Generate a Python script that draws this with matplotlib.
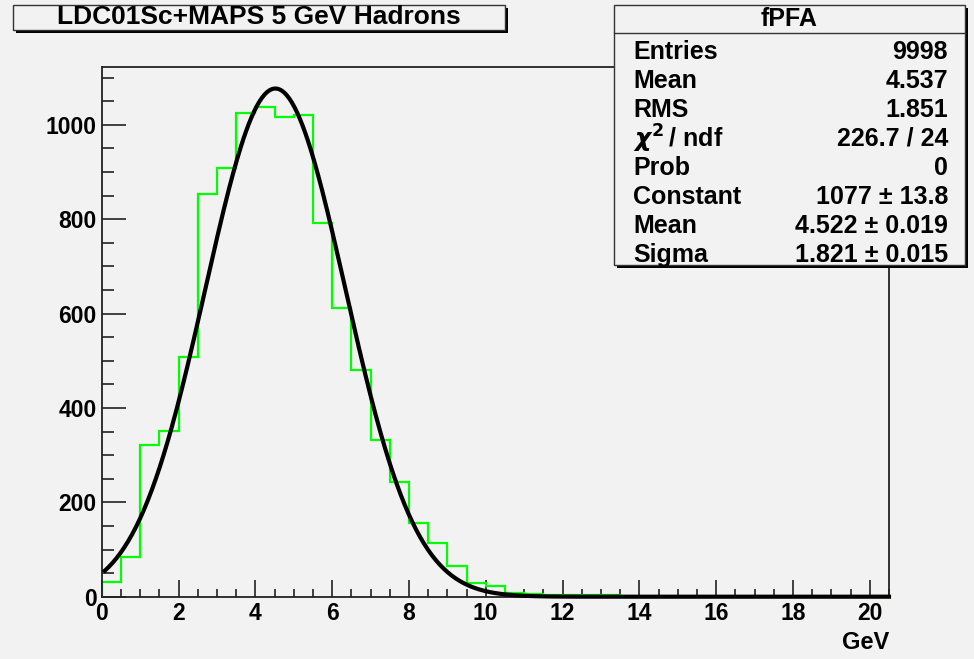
import numpy as np
import matplotlib; matplotlib.use("Agg"); import matplotlib.pyplot as plt
from matplotlib.patches import Rectangle
from matplotlib.ticker import MultipleLocator

plt.rcParams["font.family"] = ["Liberation Sans", "DejaVu Sans"]
plt.rcParams["font.weight"] = "bold"
plt.rcParams["mathtext.fontset"] = "dejavusans"

TITLE = "LDC01Sc+MAPS 5 GeV Hadrons"
HNAME = "fPFA"
# bin contents, 0.5 GeV bins from 0 to 20.5
counts = [32, 85, 322, 352, 507, 854, 908, 1025, 1037, 1016, 1020, 792, 611, 481,
          332, 244, 156, 113, 66, 28, 23, 7, 5, 3, 3, 3, 3, 0, 0, 0, 0, 0, 0, 0,
          0, 0, 0, 0, 0, 0, 1]
bin_width = 0.5
# gaus fit parameters
fit_const, fit_mean, fit_sigma = 1077, 4.522, 1.821
stat_names = ["Entries", "Mean", "RMS", r"$\chi^{2}\,$/ ndf", "Prob", "Constant", "Mean", "Sigma"]
stat_vals = ["9998", "4.537", "1.851", "226.7 / 24", "0",
             "1077 \u00b1 13.8", "4.522 \u00b1 0.019", "1.821 \u00b1 0.015"]

W, H = 974, 659
BG = "#f2f2f2"
fig = plt.figure(figsize=(W / 100, H / 100), dpi=100, facecolor=BG)

def fx(px): return px / W
def fy(py): return 1 - py / H

ax = fig.add_axes([fx(101.7), fy(596.7), fx(889) - fx(101.7), fy(67.3) - fy(596.7)])
ax.set_facecolor(BG)
edges = np.arange(len(counts) + 1) * bin_width
ax.stairs(counts, edges, color="#00ff00", lw=1.6, zorder=2)
xs = np.linspace(0.08, edges[-1], 600)
ax.plot(xs, fit_const * np.exp(-0.5 * ((xs - fit_mean) / fit_sigma) ** 2),
        color="black", lw=3.0, zorder=3, clip_on=False)

ax.set_xlim(0, edges[-1])
ax.set_ylim(0, 1122)
ax.xaxis.set_major_locator(MultipleLocator(2))
ax.xaxis.set_minor_locator(MultipleLocator(0.5))
ax.yaxis.set_major_locator(MultipleLocator(200))
ax.yaxis.set_minor_locator(MultipleLocator(50))
ax.tick_params(which="both", direction="in", top=False, right=False, color="#222222", width=1.2)
ax.tick_params(axis="x", which="major", length=12.5, labelsize=16.5, pad=4)
ax.tick_params(axis="x", which="minor", length=6)
ax.tick_params(axis="y", which="major", length=17, labelsize=16.5, pad=3.5)
ax.tick_params(axis="y", which="minor", length=8.5)
for s in ax.spines.values():
    s.set_color("#222222"); s.set_linewidth(1.3)
ax.text(1.0, -0.064, "GeV", transform=ax.transAxes, ha="right", va="top", fontsize=17)

# title box with drop shadow
def box(x0, y0, x1, y1):
    fig.patches.append(Rectangle((fx(x0) + fx(3), fy(y1) - 3 / H), fx(x1) - fx(x0), fy(y0) - fy(y1),
                                 transform=fig.transFigure, facecolor="black", edgecolor="none", zorder=5))
    fig.patches.append(Rectangle((fx(x0), fy(y1)), fx(x1) - fx(x0), fy(y0) - fy(y1),
                                 transform=fig.transFigure, facecolor=BG, edgecolor="#333333", lw=1.0, zorder=6))

box(13, 5, 505, 29.5)
fig.text(fx(259), fy(17.5), TITLE, ha="center", va="center", fontsize=19, zorder=7)

# statistics box
box(614, 5, 965, 265)
fig.add_artist(plt.Line2D([fx(614), fx(965)], [fy(33), fy(33)], transform=fig.transFigure,
                          color="#333333", lw=1.0, zorder=7))
fig.text(fx(789), fy(19), HNAME, ha="center", va="center", fontsize=18, zorder=7)
for i, (n, v) in enumerate(zip(stat_names, stat_vals)):
    yy = fy(52 + i * 29)
    fig.text(fx(633), yy, n, ha="left", va="center", fontsize=18, zorder=7)
    fig.text(fx(948), yy, v, ha="right", va="center", fontsize=18, zorder=7)

fig.savefig("out.png", dpi=100, facecolor=BG)
